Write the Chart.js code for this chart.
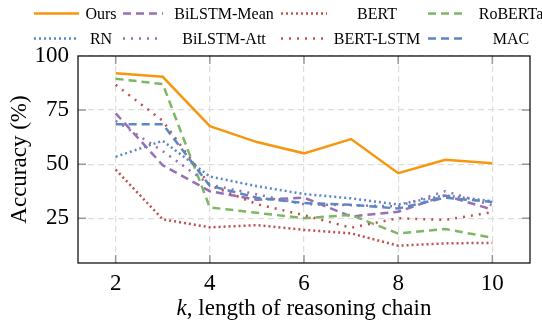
<!DOCTYPE html>
<html>
<head>
<meta charset="utf-8">
<script src="https://cdn.jsdelivr.net/npm/chart.js@4.4.1/dist/chart.umd.min.js"></script>
<style>
html,body{margin:0;padding:0;background:#fff;}
#c{display:block;}
</style>
</head>
<body>
<canvas id="c" width="542" height="320"></canvas>
<script>
// ---- data ----
const k = [2, 3, 4, 5, 6, 7, 8, 9, 10];
const xTicks = [2, 4, 6, 8, 10];
const yTicks = [25, 50, 75, 100];
const ours       = [92.0, 90.4, 67.6, 60.2, 55.0, 61.6, 45.8, 52.0, 50.4];
const bilstmMean = [73.5, 49.5, 37.5, 33.5, 34.5, 25.8, 28.0, 35.5, 29.0];
const bert       = [47.5, 24.5, 20.8, 21.8, 19.6, 18.0, 12.3, 13.4, 13.6];
const roberta    = [89.5, 87.0, 30.0, 27.5, 25.0, 26.5, 17.9, 20.0, 16.0];
const rn         = [53.4, 60.8, 44.3, 39.8, 36.2, 34.2, 31.3, 35.6, 32.8];
const bilstmAtt  = [70.0, 56.0, 40.5, 36.0, 31.5, 31.0, 30.5, 37.5, 31.0];
const bertLstm   = [86.7, 70.0, 40.3, 31.5, 26.4, 20.6, 25.0, 24.2, 27.8];
const mac        = [68.5, 68.5, 40.0, 34.5, 32.0, 31.2, 29.5, 34.5, 32.5];

const seriesNames = ['Ours','BiLSTM-Mean','BERT','RoBERTa','RN','BiLSTM-Att','BERT-LSTM','MAC'];
const seriesData = [ours, bilstmMean, bert, roberta, rn, bilstmAtt, bertLstm, mac];

const ORANGE = '#f7960f', PURPLE = '#9670b4', RED = '#c0504d', GREEN = '#7cb763', BLUE = '#5b87c5';
const styles = [
  {c: ORANGE, d: []},
  {c: PURPLE, d: [8, 5]},
  {c: RED,    d: [2, 3]},
  {c: GREEN,  d: [8, 5]},
  {c: BLUE,   d: [2, 3]},
  {c: PURPLE, d: [2, 6]},
  {c: RED,    d: [2, 6]},
  {c: BLUE,   d: [8, 5]}
];

const datasets = seriesNames.map((name, i) => ({
  label: name,
  data: k.map((x, j) => ({x: x, y: seriesData[i][j]})),
  borderColor: styles[i].c,
  backgroundColor: styles[i].c,
  borderDash: styles[i].d,
  borderWidth: 2.5,
  pointRadius: 0,
  tension: 0,
  fill: false,
  order: seriesNames.length - i
}));

const FONT = "'Liberation Serif', 'Times New Roman', serif";

const decor = {
  id: 'decor',
  afterDraw(chart) {
    const ctx = chart.ctx;
    const a = chart.chartArea;
    const xs = chart.scales.x, ys = chart.scales.y;
    ctx.save();
    // inner tick marks
    ctx.strokeStyle = '#9a9a9a';
    ctx.lineWidth = 1.5;
    ctx.setLineDash([]);
    xTicks.forEach(v => {
      const px = xs.getPixelForValue(v);
      ctx.beginPath();
      ctx.moveTo(px, a.bottom); ctx.lineTo(px, a.bottom - 8);
      ctx.moveTo(px, a.top); ctx.lineTo(px, a.top + 8);
      ctx.stroke();
    });
    yTicks.forEach(v => {
      if (v >= 100) return;
      const py = ys.getPixelForValue(v);
      ctx.beginPath();
      ctx.moveTo(a.left, py); ctx.lineTo(a.left + 8, py);
      ctx.moveTo(a.right, py); ctx.lineTo(a.right - 8, py);
      ctx.stroke();
    });
    // axis box
    ctx.strokeStyle = '#000';
    ctx.lineWidth = 1.2;
    ctx.strokeRect(a.left, a.top, a.right - a.left, a.bottom - a.top);

    // x-axis title with italic k
    ctx.fillStyle = '#000';
    ctx.textBaseline = 'alphabetic';
    const f1 = "italic 23px " + FONT, f2 = "23px " + FONT;
    const t1 = 'k', t2 = ', length of reasoning chain';
    ctx.font = f1; const w1 = ctx.measureText(t1).width;
    ctx.font = f2; const w2 = ctx.measureText(t2).width;
    const cx = (a.left + a.right) / 2;
    let sx = cx - (w1 + w2) / 2;
    const by = 315;
    ctx.font = f1; ctx.textAlign = 'left'; ctx.fillText(t1, sx, by);
    ctx.font = f2; ctx.fillText(t2, sx + w1, by);

    // legend (two rows x four columns, text centred in its cell)
    const cols = [
      {l0: 34, l1: 79, tc: 101},
      {l0: 123, l1: 163, tc: 224},
      {l0: 281, l1: 327, tc: 377},
      {l0: 428, l1: 466, tc: 511}
    ];
    const rows = [{ly: 13.5, ty: 18.5}, {ly: 38.5, ty: 43.5}];
    ctx.font = "16px " + FONT;
    chart.data.datasets.forEach((ds, i) => {
      const col = cols[i % 4], row = rows[Math.floor(i / 4)];
      ctx.strokeStyle = ds.borderColor;
      ctx.lineWidth = 2.5;
      ctx.setLineDash(ds.borderDash);
      ctx.beginPath();
      ctx.moveTo(col.l0, row.ly); ctx.lineTo(col.l1, row.ly);
      ctx.stroke();
      ctx.setLineDash([]);
      ctx.fillStyle = '#000';
      ctx.textAlign = 'center';
      ctx.fillText(ds.label, col.tc, row.ty);
    });
    ctx.restore();
  }
};

new Chart(document.getElementById('c'), {
  type: 'line',
  data: {datasets: datasets},
  options: {
    responsive: false,
    animation: false,
    devicePixelRatio: 1,
    layout: {padding: {top: 56, right: 12, left: 0, bottom: 0}},
    plugins: {legend: {display: false}, tooltip: {enabled: false}},
    scales: {
      x: {
        type: 'linear', min: 1.2, max: 10.8,
        afterBuildTicks: s => { s.ticks = xTicks.map(v => ({value: v})); },
        afterFit: s => { s.height = 320 - 263; },
        grid: {color: '#dddddd', lineWidth: 1.2, drawTicks: false},
        border: {display: false, dash: [6, 4]},
        ticks: {padding: 7, color: '#000', font: {family: FONT, size: 23}, maxRotation: 0, autoSkip: false,
                callback: v => String(v)},
        title: {display: false}
      },
      y: {
        type: 'linear', min: 4.3, max: 100,
        afterBuildTicks: s => { s.ticks = yTicks.map(v => ({value: v})); },
        afterFit: s => { s.width = 78; },
        grid: {color: '#dddddd', lineWidth: 1.2, drawTicks: false},
        border: {display: false, dash: [6, 4]},
        ticks: {padding: 9, color: '#000', font: {family: FONT, size: 23}, callback: v => String(v)},
        title: {display: true, text: 'Accuracy (%)', color: '#000', font: {family: FONT, size: 23}, padding: {top: 6, bottom: 0}}
      }
    }
  },
  plugins: [decor]
});
</script>
</body>
</html>
